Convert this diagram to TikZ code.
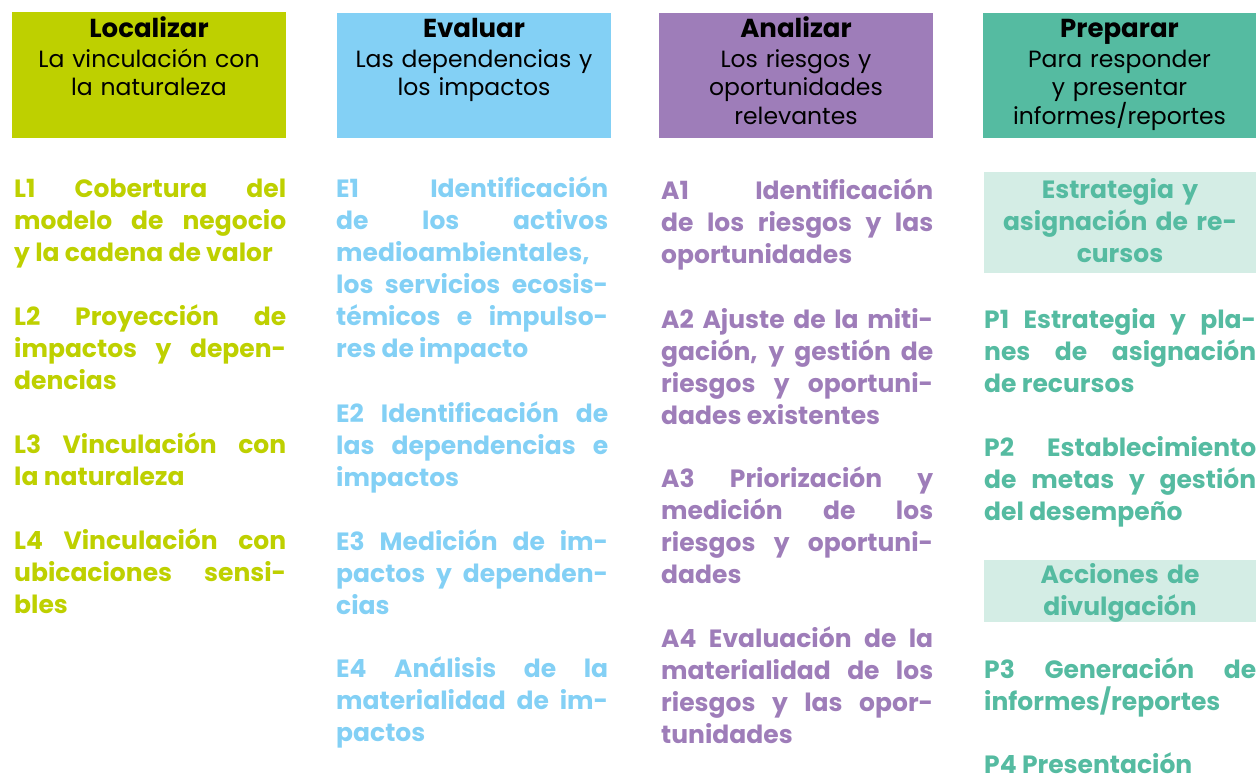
\documentclass[tikz,border=0pt]{standalone}
\usepackage{fontspec}
\setmainfont{Poppins}
\definecolor{locgreen}{HTML}{BED000}
\definecolor{evablue}{HTML}{83D0F5}
\definecolor{anapurple}{HTML}{9E7DB9}
\definecolor{prepteal}{HTML}{55BBA1}
\definecolor{preplight}{HTML}{D4EDE5}
\newcommand{\phasetitle}[1]{{\fontsize{26}{29}\selectfont\bfseries #1}}
\tolerance=10000
\hyphenpenalty=10000

\begin{document}
\begin{tikzpicture}[x=1pt, y=-1pt,
    phase/.style={anchor=base, align=center, text width=272pt, inner sep=0pt, font=\fontsize{23.5}{29}\selectfont},
    entry/.style={anchor=base west, align=justify, text width=272pt, inner sep=0pt, font=\fontsize{25}{32}\selectfont\bfseries},
    subhead/.style={anchor=base, align=center, text width=272pt, inner sep=0pt, text=prepteal, font=\fontsize{25}{32}\selectfont\bfseries}]
    \useasboundingbox (0,0) rectangle (1259,776);
    % cabeceras
    \fill[locgreen] (12,12) rectangle (286,138);
    \fill[evablue] (337,13) rectangle (611,138);
    \fill[anapurple] (659,13) rectangle (933,138);
    \fill[prepteal] (983,13) rectangle (1256,138);
    \node (loc) [phase] at (149,38) {\phasetitle{Localizar}\\La vinculación con\\la naturaleza};
    \node (eva) [phase] at (474,38) {\phasetitle{Evaluar}\\Las dependencias y\\los impactos};
    \node (ana) [phase] at (796,38) {\phasetitle{Analizar}\\Los riesgos y\\oportunidades\\relevantes};
    \node (prep) [phase] at (1119.5,38) {\phasetitle{Preparar}\\Para responder\\y presentar\\informes/reportes};
    % Localizar
    \node (L1) [entry, text=locgreen] at (14,197) {L1 Cobertura del\linebreak modelo de negocio\linebreak y la cadena de valor};
    \node (L2) [entry, text=locgreen] at (14,325) {L2 Proyección de\linebreak impactos y depen-\linebreak dencias};
    \node (L3) [entry, text=locgreen] at (14,453) {L3 Vinculación con\linebreak la naturaleza};
    \node (L4) [entry, text=locgreen] at (14,549) {L4 Vinculación con\linebreak ubicaciones sensi-\linebreak bles};
    % Evaluar
    \node (E1) [entry, text=evablue] at (336,197) {E1 Identificación\linebreak de los activos\linebreak medioambientales,\linebreak los servicios ecosis-\linebreak témicos e impulso-\linebreak res de impacto};
    \node (E2) [entry, text=evablue] at (336,422) {E2 Identificación de\linebreak las dependencias e\linebreak impactos};
    \node (E3) [entry, text=evablue] at (336,550) {E3 Medición de im-\linebreak pactos y dependen-\linebreak cias};
    \node (E4) [entry, text=evablue] at (336,677) {E4 Análisis de la\linebreak materialidad de im-\linebreak pactos};
    % Analizar
    \node (A1) [entry, text=anapurple] at (661,199) {A1 Identificación\linebreak de los riesgos y las\linebreak oportunidades};
    \node (A2) [entry, text=anapurple] at (661,328) {A2 Ajuste de la miti-\linebreak gación, y gestión de\linebreak riesgos y oportuni-\linebreak dades existentes};
    \node (A3) [entry, text=anapurple] at (661,487) {A3 Priorización y\linebreak medición de los\linebreak riesgos y oportuni-\linebreak dades};
    \node (A4) [entry, text=anapurple] at (661,647) {A4 Evaluación de la\linebreak materialidad de los\linebreak riesgos y las opor-\linebreak tunidades};
    % Preparar
    \fill[preplight] (984,172) rectangle (1256,273);
    \node (estr) [subhead] at (1120,198) {Estrategia y\\asignación de re-\\cursos};
    \node (P1) [entry, text=prepteal] at (984,328) {P1 Estrategia y pla-\linebreak nes de asignación\linebreak de recursos};
    \node (P2) [entry, text=prepteal] at (984,456) {P2 Establecimiento\linebreak de metas y gestión\linebreak del desempeño};
    \fill[preplight] (984,560) rectangle (1256,622);
    \node (divu) [subhead] at (1120,583) {Acciones de\\divulgación};
    \node (P3) [entry, text=prepteal] at (984,678) {P3 Generación de\linebreak informes/reportes};
    \node (P4) [entry, text=prepteal] at (984,773) {P4 Presentación};
\end{tikzpicture}
\end{document}
